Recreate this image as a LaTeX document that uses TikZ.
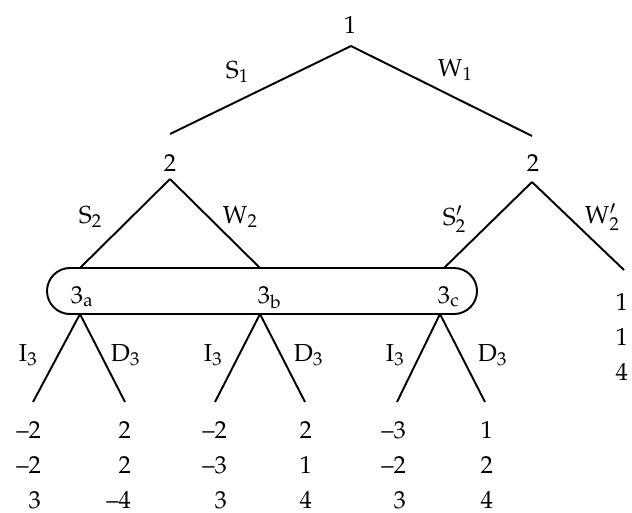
\documentclass[tikz,border=0pt]{standalone}
\usepackage[T1]{fontenc}
\usepackage{mathpazo}
\begin{document}
\begin{tikzpicture}[x=0.02cm,y=-0.02cm,line width=1.1pt,
  every node/.style={font=\fontsize{14}{20}\selectfont,inner sep=0pt},
  lbl/.style={anchor=base west},
  pay/.style={anchor=north east,align=right}]
\useasboundingbox (0,0) rectangle (632,512);
% decision points
\coordinate (n1) at (351,46);
\coordinate (e2s) at (170,134);
\coordinate (e2w) at (532,136);
\coordinate (n2s) at (170,179);
\coordinate (n2w) at (532,182);
\coordinate (t3a) at (80,268);
\coordinate (t3b) at (260,268);
\coordinate (t3c) at (444,268);
\coordinate (b3a) at (80,314);
\coordinate (b3b) at (260,314);
\coordinate (b3c) at (440,314);
\coordinate (endw) at (624,270);
\coordinate (aI) at (33,402);
\coordinate (aD) at (125,402);
\coordinate (bI) at (215,402);
\coordinate (bD) at (305,402);
\coordinate (cI) at (397,402);
\coordinate (cD) at (485,402);
% branches
\draw (n1) -- (e2s);
\draw (n1) -- (e2w);
\draw (n2s) -- (t3a);
\draw (n2s) -- (t3b);
\draw (n2w) -- (t3c);
\draw (n2w) -- (endw);
\draw[rounded corners=0.46cm] (47,268) rectangle (477,314);
\draw (b3a) -- (aI);
\draw (b3a) -- (aD);
\draw (b3b) -- (bI);
\draw (b3b) -- (bD);
\draw (b3c) -- (cI);
\draw (b3c) -- (cD);
% players
\node (p1) at (350,25) {1};
\node (p2s) at (170,163) {2};
\node (p2w) at (533,163) {2};
\node[lbl] (p3a) at (70,303) {$3_{\mathrm{a}}$};
\node[lbl] (p3b) at (257,303) {$3_{\mathrm{b}}$};
\node[lbl] (p3c) at (437,303) {$3_{\mathrm{c}}$};
% moves
\node[lbl] (s1) at (225,78) {$\mathrm{S}_1$};
\node[lbl] (w1) at (437,76) {$\mathrm{W}_1$};
\node[lbl] (s2) at (78,223) {$\mathrm{S}_2$};
\node[lbl] (w2) at (222,223) {$\mathrm{W}_2$};
\node[lbl] (s2p) at (442,225) {$\mathrm{S}'_2$};
\node[lbl] (w2p) at (584,223) {$\mathrm{W}'_2$};
\node[lbl] (ia) at (18,361) {$\mathrm{I}_3$};
\node[lbl] (da) at (110,361) {$\mathrm{D}_3$};
\node[lbl] (ib) at (203,361) {$\mathrm{I}_3$};
\node[lbl] (db) at (293,361) {$\mathrm{D}_3$};
\node[lbl] (ic) at (385,361) {$\mathrm{I}_3$};
\node[lbl] (dc) at (477,361) {$\mathrm{D}_3$};
% payoffs
\node[pay] (uaI) at (42,420) {--2\\--2\\3};
\node[pay] (uaD) at (132,420) {2\\2\\--4};
\node[pay] (ubI) at (228,420) {--2\\--3\\3};
\node[pay] (ubD) at (313,420) {2\\1\\4};
\node[pay] (ucI) at (407,420) {--3\\--2\\3};
\node[pay] (ucD) at (494,420) {1\\2\\4};
\node[pay] (uw) at (629,292) {1\\1\\4};
\end{tikzpicture}
\end{document}
